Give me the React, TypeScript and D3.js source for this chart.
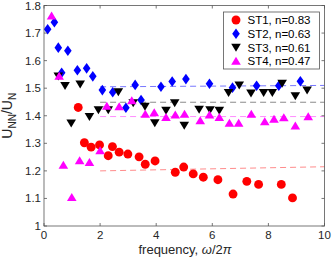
import * as d3 from "d3";
import React from "react";

// ST1 (red circles)
const st1X = [1.22, 1.44, 1.68, 1.98, 2.29, 2.44, 2.68, 2.99, 3.39, 3.61, 3.96, 4.68, 4.98, 5.32, 5.68, 6.2, 6.74, 7.23, 7.65, 8.46, 8.86];
const st1Y = [1.43, 1.302, 1.286, 1.294, 1.255, 1.288, 1.268, 1.261, 1.251, 1.224, 1.236, 1.195, 1.214, 1.189, 1.177, 1.168, 1.116, 1.162, 1.151, 1.151, 1.102];

// ST2 (blue diamonds)
const st2X = [0.13, 0.37, 0.51, 0.63, 0.85, 1.19, 1.52, 1.74, 2.08, 2.45, 2.92, 3.25, 3.46, 4.17, 4.57, 5.06, 5.9, 6.72, 7.58, 8.37, 9.14];
const st2Y = [1.714, 1.739, 1.647, 1.556, 1.636, 1.565, 1.572, 1.543, 1.493, 1.485, 1.429, 1.512, 1.457, 1.505, 1.524, 1.533, 1.516, 1.502, 1.509, 1.509, 1.525];

// ST3 (black down triangles)
const st3X = [0.51, 0.75, 0.97, 1.29, 1.62, 1.94, 2.29, 2.65, 3.18, 3.6, 3.95, 4.35, 4.66, 5.0, 5.53, 5.92, 6.25, 6.58, 6.96, 7.38, 7.83, 8.14, 8.49, 8.96, 9.38];
const st3Y = [1.544, 1.509, 1.373, 1.515, 1.397, 1.421, 1.421, 1.487, 1.447, 1.434, 1.374, 1.42, 1.447, 1.365, 1.423, 1.421, 1.42, 1.484, 1.511, 1.482, 1.484, 1.484, 1.518, 1.472, 1.493];

// ST4 (magenta up triangles)
const st4X = [0.27, 0.54, 0.69, 0.99, 1.27, 1.62, 2.0, 2.24, 2.68, 3.13, 3.61, 3.93, 4.35, 4.68, 5.01, 5.57, 5.9, 6.25, 6.61, 6.94, 7.39, 7.87, 8.2, 8.55, 8.96, 9.42];
const st4Y = [1.762, 1.544, 1.221, 1.104, 1.237, 1.231, 1.273, 1.435, 1.433, 1.455, 1.406, 1.411, 1.394, 1.403, 1.406, 1.382, 1.403, 1.394, 1.373, 1.373, 1.406, 1.379, 1.388, 1.393, 1.363, 1.397];

// dashed fits, from x=2 to x=10
const fitX = [2, 10];
const fit1 = [1.2, 1.215];
const fit2 = [1.505, 1.51];
const fit3 = [1.449, 1.449];
const fit4 = [1.397, 1.397];

const legendLabels = ["ST1, n=0.83", "ST2, n=0.63", "ST3, n=0.61", "ST4, n=0.47"];
const xTicks = [0, 2, 4, 6, 8, 10];
const yTicks = [1, 1.1, 1.2, 1.3, 1.4, 1.5, 1.6, 1.7, 1.8];

const W = 332;
const H = 259;
const left = 44;
const right = 324.5;
const top = 5.5;
const bottom = 226;

const FONT = "'Liberation Sans', Arial, sans-serif";

const x = d3.scaleLinear().domain([0, 10]).range([left, right]);
const y = d3.scaleLinear().domain([1, 1.8]).range([bottom, top]);

const symCircle = d3.symbol().type(d3.symbolCircle).size(62)();
const symDiamond = (cx: number, cy: number) =>
  `M${cx},${cy - 5.3}L${cx + 3.8},${cy}L${cx},${cy + 5.3}L${cx - 3.8},${cy}Z`;
const triDown = (cx: number, cy: number) =>
  `M${cx - 4.8},${cy - 3.6}L${cx + 4.8},${cy - 3.6}L${cx},${cy + 4.4}Z`;
const triUp = (cx: number, cy: number) =>
  `M${cx - 4.8},${cy + 3.6}L${cx + 4.8},${cy + 3.6}L${cx},${cy - 4.4}Z`;

const series = [
  { xs: st1X, ys: st1Y, color: "#ff0000", fit: fit1, fitColor: "#ff8c8c", kind: "circle" },
  { xs: st2X, ys: st2Y, color: "#0000ff", fit: fit2, fitColor: "#7878ff", kind: "diamond" },
  { xs: st3X, ys: st3Y, color: "#000000", fit: fit3, fitColor: "#8a8a8a", kind: "down" },
  { xs: st4X, ys: st4Y, color: "#ff00ff", fit: fit4, fitColor: "#ff8cff", kind: "up" },
];

function marker(kind: string, cx: number, cy: number, color: string, key: string) {
  if (kind === "circle")
    return <path key={key} d={symCircle} transform={`translate(${cx},${cy})`} fill={color} />;
  if (kind === "diamond") return <path key={key} d={symDiamond(cx, cy)} fill={color} />;
  if (kind === "down") return <path key={key} d={triDown(cx, cy)} fill={color} />;
  return <path key={key} d={triUp(cx, cy)} fill={color} />;
}

const line = d3
  .line<[number, number]>()
  .x((d) => x(d[0]))
  .y((d) => y(d[1]));

export default function App() {
  const axisColor = "#555";
  const lgX = 223.5;
  const lgY = 12;
  const lgW = 96;
  const lgH = 57;
  return (
    <div style={{ position: "fixed", left: 0, top: 0 }}>
      <svg width={W} height={H} style={{ display: "block", background: "#fff" }} fontFamily={FONT}>
        <rect x={0} y={0} width={W} height={H} fill="#fff" />
        {/* fits */}
        {series.map((s, i) => (
          <path
            key={"fit" + i}
            d={line(fitX.map((fx, j) => [fx, s.fit[j]] as [number, number])) || ""}
            fill="none"
            stroke={s.fitColor}
            strokeWidth={1}
            strokeDasharray="6,4"
          />
        ))}
        {/* markers */}
        {series.map((s, i) => (
          <g key={"s" + i}>{s.xs.map((vx, j) => marker(s.kind, x(vx), y(s.ys[j]), s.color, `${i}-${j}`))}</g>
        ))}
        {/* axes box */}
        <rect x={left} y={top} width={right - left} height={bottom - top} fill="none" stroke={axisColor} strokeWidth={0.8} />
        {xTicks.map((t) => (
          <g key={"xt" + t}>
            <line x1={x(t)} x2={x(t)} y1={bottom} y2={bottom - 3} stroke={axisColor} strokeWidth={0.8} />
            <line x1={x(t)} x2={x(t)} y1={top} y2={top + 3} stroke={axisColor} strokeWidth={0.8} />
            <text x={x(t)} y={bottom + 13} fontSize={11.5} textAnchor="middle" fill="#262626">
              {t}
            </text>
          </g>
        ))}
        {yTicks.map((t) => (
          <g key={"yt" + t}>
            <line x1={left} x2={left + 3} y1={y(t)} y2={y(t)} stroke={axisColor} strokeWidth={0.8} />
            <line x1={right} x2={right - 3} y1={y(t)} y2={y(t)} stroke={axisColor} strokeWidth={0.8} />
            <text x={left - 3} y={y(t) + 4} fontSize={11.5} textAnchor="end" fill="#262626">
              {t === 1 ? "1" : t.toFixed(1)}
            </text>
          </g>
        ))}
        {/* axis labels */}
        <text x={185} y={254} fontSize={13} textAnchor="middle" fill="#262626">
          frequency, <tspan fontStyle="italic">ω</tspan>/2<tspan fontStyle="italic">π</tspan>
        </text>
        <text transform={`translate(12,${(top + bottom) / 2}) rotate(-90)`} fontSize={14} textAnchor="middle" fill="#262626">
          U<tspan fontSize={10} dy={4}>NN</tspan>
          <tspan dy={-4}>/U</tspan>
          <tspan fontSize={10} dy={4}>N</tspan>
        </text>
        {/* legend */}
        <rect x={lgX} y={lgY} width={lgW} height={lgH} fill="#fff" stroke={axisColor} strokeWidth={0.8} />
        {series.map((s, i) => {
          const ry = 20 + i * 13.7;
          return (
            <g key={"lg" + i}>
              {marker(s.kind, 236, ry, s.color, "lgm" + i)}
              <text x={247.5} y={ry + 4.2} fontSize={11.5} fill="#000">
                {legendLabels[i]}
              </text>
            </g>
          );
        })}
      </svg>
    </div>
  );
}
